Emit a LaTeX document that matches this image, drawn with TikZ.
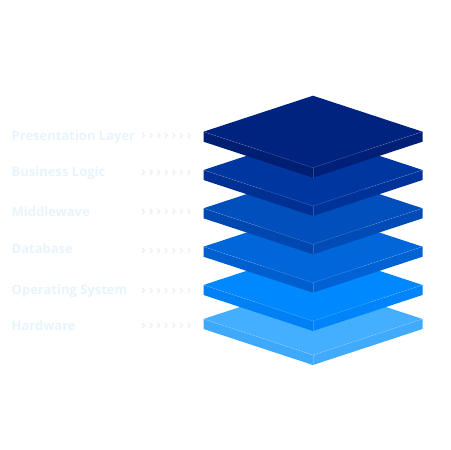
\documentclass[tikz,border=0pt]{standalone}
\usepackage{fontspec}
\setmainfont{Open Sans}
\usepackage{tikz}

\definecolor{labelblue}{HTML}{E8F4FC}
\definecolor{chevgray}{HTML}{EDF1F5}
% slab colours: top, left side, right side
\definecolor{hwtop}{HTML}{44AFFF}   \definecolor{hwleft}{HTML}{3EA8FA}   \definecolor{hwright}{HTML}{40ABFC}
\definecolor{ostop}{HTML}{0088FF}   \definecolor{osleft}{HTML}{0080F5}   \definecolor{osright}{HTML}{0084FA}
\definecolor{dbtop}{HTML}{0066DA}   \definecolor{dbleft}{HTML}{005FCF}   \definecolor{dbright}{HTML}{0062D4}
\definecolor{midtop}{HTML}{004FBC}  \definecolor{midleft}{HTML}{0048B0}  \definecolor{midright}{HTML}{004BB6}
\definecolor{logtop}{HTML}{0036A0}  \definecolor{logleft}{HTML}{003094}  \definecolor{logright}{HTML}{00339A}
\definecolor{prestop}{HTML}{00237F} \definecolor{presleft}{HTML}{001E72} \definecolor{presright}{HTML}{002078}

\tikzstyle{label} = [anchor=base west, inner sep=0pt, text=labelblue, font=\fontsize{13}{15}\selectfont\bfseries]
\tikzstyle{chevrons} = [anchor=base west, inner sep=0pt, text=chevgray, font=\fontsize{13}{15}\selectfont\bfseries]
\tikzstyle{rim} = [draw=white, draw opacity=0.18, line width=0.5pt]

% one slab of the stack: #1 = y of the left corner, #2 = name of its colours
\newcommand{\slab}[2]{
	\fill[#2left] (203.5,#1) -- (313,#1+36) -- (313,#1+46) -- (203.5,#1+10) -- cycle;
	\fill[#2right] (313,#1+36) -- (422.5,#1) -- (422.5,#1+10) -- (313,#1+46) -- cycle;
	\fill[#2top] (313,#1-36) -- (203.5,#1) -- (313,#1+36) -- (422.5,#1) -- cycle;
	\draw[rim] (203.5,#1) -- (313,#1+36) -- (422.5,#1);
	\draw[rim] (313,#1+36) -- (313,#1+46);
}

\newcommand{\chev}{›\hskip2.8pt›\hskip2.8pt›\hskip2.8pt›\hskip2.8pt›\hskip2.8pt›\hskip2.8pt›}

\begin{document}
\begin{tikzpicture}[x=1pt, y=-1pt]
	\useasboundingbox (0,0) rectangle (451,450);

	% layers, from the bottom up
	\slab{319}{hw}
	\slab{285}{os}
	\slab{246.7}{db}
	\slab{208.3}{mid}
	\slab{170}{log}
	\slab{131.7}{pres}

	\node (pres) [label] at (11.5,140) {Presentation Layer};
	\node (logic) [label] at (11.5,176.8) {Business Logic};
	\node (middle) [label] at (11.5,216) {Middlewave};
	\node (db) [label] at (11.5,253.8) {Database};
	\node (os) [label] at (11.5,294.3) {Operating System};
	\node (hw) [label] at (11.5,330.5) {Hardware};

	\node (presarr) [chevrons] at (141,139) {\chev};
	\node (logicarr) [chevrons] at (141,176.5) {\chev};
	\node (middlearr) [chevrons] at (141,215) {\chev};
	\node (dbarr) [chevrons] at (141,254) {\chev};
	\node (osarr) [chevrons] at (141,294) {\chev};
	\node (hwarr) [chevrons] at (141,329.7) {\chev};
\end{tikzpicture}
\end{document}
